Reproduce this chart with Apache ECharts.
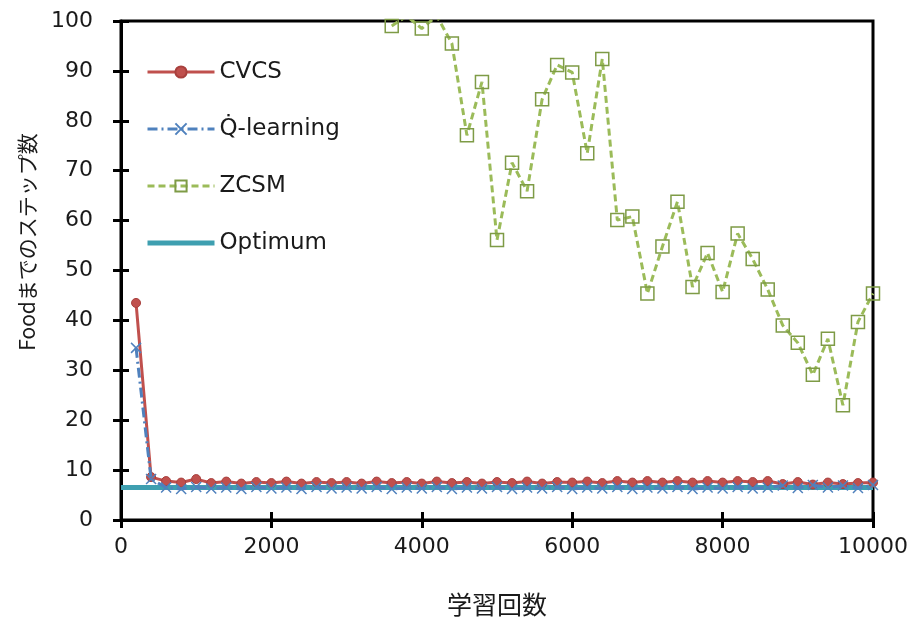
<!DOCTYPE html>
<html>
<head>
<meta charset="utf-8">
<script src="https://cdn.jsdelivr.net/npm/echarts@6/dist/echarts.min.js"></script>
<style>
html,body{margin:0;padding:0;background:#fff;}
#chart{width:916px;height:623px;}
</style>
</head>
<body>
<div id="chart"></div>
<script>
var steps = [200,400,600,800,1000,1200,1400,1600,1800,2000,
             2200,2400,2600,2800,3000,3200,3400,3600,3800,4000,
             4200,4400,4600,4800,5000,5200,5400,5600,5800,6000,
             6200,6400,6600,6800,7000,7200,7400,7600,7800,8000,
             8200,8400,8600,8800,9000,9200,9400,9600,9800,10000];

var cvcs = [43.5,8.6,7.8,7.5,8.2,7.4,7.7,7.3,7.6,7.4,
            7.7,7.3,7.6,7.4,7.6,7.3,7.7,7.4,7.6,7.3,
            7.7,7.4,7.6,7.3,7.6,7.4,7.7,7.3,7.6,7.5,
            7.7,7.4,7.8,7.5,7.8,7.5,7.8,7.5,7.8,7.5,
            7.8,7.6,7.8,7.2,7.6,7.1,7.5,7.2,7.4,7.5];

var qlearning = [34.5,8.2,6.5,6.2,6.6,6.3,6.5,6.2,6.6,6.3,
                 6.5,6.2,6.6,6.3,6.5,6.3,6.6,6.2,6.5,6.3,
                 6.6,6.2,6.5,6.3,6.6,6.2,6.5,6.3,6.6,6.2,
                 6.5,6.3,6.6,6.2,6.5,6.3,6.6,6.2,6.5,6.3,
                 6.6,6.3,6.5,6.9,6.4,7.0,6.5,6.9,6.4,7.0];

var zcsm = [null,null,null,null,null,null,null,null,null,null,
            null,null,null,null,null,null,null,99.0,101,98.5,
            101,95.5,77.1,87.8,56.1,71.6,65.9,84.3,91.2,89.7,
            73.5,92.4,60.1,60.8,45.4,54.8,63.8,46.7,53.5,45.7,
            57.4,52.3,46.2,39.0,35.5,29.1,36.3,23.0,39.7,45.4];

var optimumX = [0,10000];
var optimumY = [6.5,6.5];

var seriesNames = ['CVCS','Q\u0307-learning','ZCSM','Optimum'];
var xTitle = '学習回数';
var yTitle = 'Foodまでのステップ数';

function pairs(xs, ys){ return xs.map(function(x,i){ return [x, ys[i]]; }); }

var chart = echarts.init(document.getElementById('chart'), null, {renderer:'canvas'});
var labelFont = {fontFamily:'DejaVu Sans', fontSize:22, color:'#1a1a1a', formatter:function(v){return String(v);}};

var option = {
  animation:false,
  backgroundColor:'#fff',
  grid:{left:121, right:43, top:21, bottom:103, show:true, borderColor:'#000', borderWidth:3, backgroundColor:'transparent'},
  legend:{
    orient:'vertical', left:145, top:60, itemWidth:67, itemHeight:14, itemGap:33, padding:0, itemSymbolSize:10,
    textStyle:{fontFamily:'DejaVu Sans', fontSize:23, color:'#1a1a1a', lineHeight:24},
    data:[
      {name:seriesNames[0], lineStyle:{width:3}},
      {name:seriesNames[1], lineStyle:{width:3}},
      {name:seriesNames[2], lineStyle:{width:3}},
      {name:seriesNames[3], lineStyle:{width:5}, itemStyle:{color:'rgba(0,0,0,0)', borderColor:'rgba(0,0,0,0)', borderWidth:0}}
    ]
  },
  xAxis:[
    {type:'value', position:'bottom', min:0, max:10000, interval:2000,
     axisLine:{show:true, onZero:false, lineStyle:{color:'#000', width:3}},
     axisTick:{show:true, inside:false, length:8, lineStyle:{color:'#000', width:3}},
     axisLabel:Object.assign({margin:16}, labelFont),
     splitLine:{show:false},
     name:xTitle, nameLocation:'middle', nameGap:72,
     nameTextStyle:{fontFamily:'Noto Sans CJK JP', fontSize:25, color:'#1a1a1a'}},
    {type:'value', position:'bottom', min:0, max:10000, interval:2000,
     axisLine:{show:false, onZero:false},
     axisTick:{show:true, inside:true, length:8, lineStyle:{color:'#000', width:3}},
     axisLabel:{show:false}, splitLine:{show:false}}
  ],
  yAxis:[
    {type:'value', position:'left', min:0, max:100, interval:10,
     axisLine:{show:true, onZero:false, lineStyle:{color:'#000', width:3}},
     axisTick:{show:true, inside:false, length:8, lineStyle:{color:'#000', width:3}},
     axisLabel:Object.assign({margin:28}, labelFont),
     splitLine:{show:false}},
    {type:'value', position:'left', min:0, max:100, interval:10,
     axisLine:{show:false, onZero:false},
     axisTick:{show:true, inside:true, length:8, lineStyle:{color:'#000', width:3}},
     axisLabel:{show:false}, splitLine:{show:false}}
  ],
  graphic:[{
    type:'text', x:27, y:242, rotation:Math.PI/2,
    style:{text:yTitle, font:'21px "Noto Sans CJK JP"', fill:'#1a1a1a', align:'center', verticalAlign:'middle'}
  }],
  series:[
    {name:seriesNames[2], type:'line', data:pairs(steps, zcsm), clip:true, z:2,
     symbol:'rect', symbolSize:13, showAllSymbol:true,
     lineStyle:{color:'#9BBB59', width:3, type:[7,4]},
     itemStyle:{color:'rgba(255,255,255,0)', borderColor:'#7E9B46', borderWidth:1.5}},
    {name:seriesNames[3], type:'line', data:pairs(optimumX, optimumY), symbol:'none', z:3,
     lineStyle:{color:'#3E9FB0', width:5},
     itemStyle:{color:'#3E9FB0'}},
    {name:seriesNames[0], type:'line', data:pairs(steps, cvcs), clip:true, z:4,
     symbol:'circle', symbolSize:9, showAllSymbol:true,
     lineStyle:{color:'#C0504D', width:3},
     itemStyle:{color:'#C0504D', borderColor:'#A8403D', borderWidth:1}},
    {name:seriesNames[1], type:'line', data:pairs(steps, qlearning), clip:true, z:5,
     symbol:'path://M0,0L10,10M10,0L0,10', symbolSize:10, showAllSymbol:true,
     lineStyle:{color:'#4F81BD', width:3, type:[10,4,2,4]},
     itemStyle:{color:'rgba(79,129,189,0)', borderColor:'#4F81BD', borderWidth:1.5}}
  ]
};
chart.setOption(option);
</script>
</body>
</html>
